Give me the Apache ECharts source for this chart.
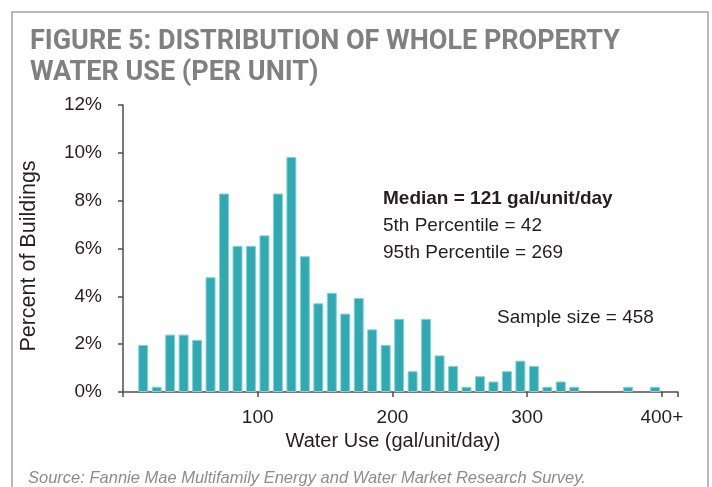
<!DOCTYPE html>
<html>
<head>
<meta charset="utf-8">
<script src="https://cdn.jsdelivr.net/npm/echarts@6/dist/echarts.min.js"></script>
<style>
html,body{margin:0;padding:0;background:#fff;}
#chart{width:712px;height:487px;}
</style>
</head>
<body>
<div id="chart"></div>
<script>
// Bin centers (gal/unit/day), 10-unit bins from 10-20 up to 390-400+
var binCenters = [15,25,35,45,55,65,75,85,95,105,115,125,135,145,155,165,175,185,195,205,215,225,235,245,255,265,275,285,295,305,315,325,335,345,355,365,375,385,395];
// Percent of buildings per bin
var percentBuildings = [1.97,0.22,2.40,2.40,2.18,4.80,8.30,6.11,6.11,6.55,8.30,9.83,5.68,3.71,4.15,3.28,3.93,2.62,1.97,3.06,0.87,3.06,1.53,1.09,0.22,0.66,0.44,0.87,1.31,1.09,0.22,0.44,0.22,0,0,0,0.22,0,0.22];
var xTickLabels = {0:'', 100:'100', 200:'200', 300:'300', 400:'400+'};
var titleLines = ['FIGURE 5: DISTRIBUTION OF WHOLE PROPERTY', 'WATER USE (PER UNIT)'];
var statLines = ['Median = 121 gal/unit/day', '5th Percentile = 42', '95th Percentile = 269'];
var sampleText = 'Sample size = 458';
var xTitle = 'Water Use (gal/unit/day)';
var yTitle = 'Percent of Buildings';
var sourceText = 'Source: Fannie Mae Multifamily Energy and Water Market Research Survey.';

var chart = echarts.init(document.getElementById('chart'), null, {renderer:'canvas'});
var dark = '#231f20';
var font = 'Liberation Sans';
var seriesData = binCenters.map(function(c,i){ return [c, percentBuildings[i] === 0 ? null : percentBuildings[i]]; });
var titleFont = 'bold 27px Roboto, "Liberation Sans", sans-serif';

var option = {
  animation:false,
  backgroundColor:'#ffffff',
  grid:{left:123, right:34, top:105, bottom:95, containLabel:false},
  xAxis:{
    type:'value', min:0, max:412, interval:100,
    axisLine:{show:true, lineStyle:{color:'#4d4d4d', width:1.5}},
    axisTick:{show:true, length:5, lineStyle:{color:'#4d4d4d', width:1.5}},
    splitLine:{show:false},
    axisLabel:{
      color:dark, fontFamily:font, fontSize:19, margin:16,
      formatter:function(v){ return xTickLabels.hasOwnProperty(v) ? xTickLabels[v] : ''; }
    }
  },
  yAxis:{
    type:'value', min:0, max:12, interval:2,
    axisLine:{show:true, lineStyle:{color:'#4d4d4d', width:1.5}},
    axisTick:{show:true, length:5, lineStyle:{color:'#4d4d4d', width:1.5}},
    splitLine:{show:false},
    axisLabel:{color:dark, fontFamily:font, fontSize:19, margin:21, formatter:'{value}%'}
  },
  series:[{
    type:'bar',
    data:seriesData,
    barWidth:10,
    itemStyle:{color:'#2faab3', borderColor:'#8ad0d5', borderWidth:1}
  }],
  graphic:[
    {type:'rect', shape:{x:12, y:12, width:696, height:520}, style:{fill:'none', stroke:'#b8b8b8', lineWidth:2}, silent:true},
    {type:'text', x:30, y:42, style:{text:titleLines[0], fill:'#808080', font:titleFont, textVerticalAlign:'middle'}},
    {type:'text', x:30, y:73, style:{text:titleLines[1], fill:'#808080', font:titleFont, textVerticalAlign:'middle'}},
    {type:'text', x:383, y:199, style:{text:statLines[0], fill:dark, font:'bold 19px "Liberation Sans"', textVerticalAlign:'middle'}},
    {type:'text', x:383, y:226, style:{text:statLines[1], fill:dark, font:'19px "Liberation Sans"', textVerticalAlign:'middle'}},
    {type:'text', x:383, y:253, style:{text:statLines[2], fill:dark, font:'19px "Liberation Sans"', textVerticalAlign:'middle'}},
    {type:'text', x:497, y:318, style:{text:sampleText, fill:dark, font:'19px "Liberation Sans"', textVerticalAlign:'middle'}},
    {type:'text', x:393, y:441, style:{text:xTitle, fill:dark, font:'20px "Liberation Sans"', textAlign:'center', textVerticalAlign:'middle'}},
    {type:'text', x:29, y:256, rotation:Math.PI/2, style:{text:yTitle, fill:dark, font:'21.5px "Liberation Sans"', textAlign:'center', textVerticalAlign:'middle'}},
    {type:'text', x:28, y:478, style:{text:sourceText, fill:'#8c8c8c', font:'italic 16.5px "Liberation Sans"', textVerticalAlign:'middle'}}
  ]
};
chart.setOption(option);
</script>
</body>
</html>
